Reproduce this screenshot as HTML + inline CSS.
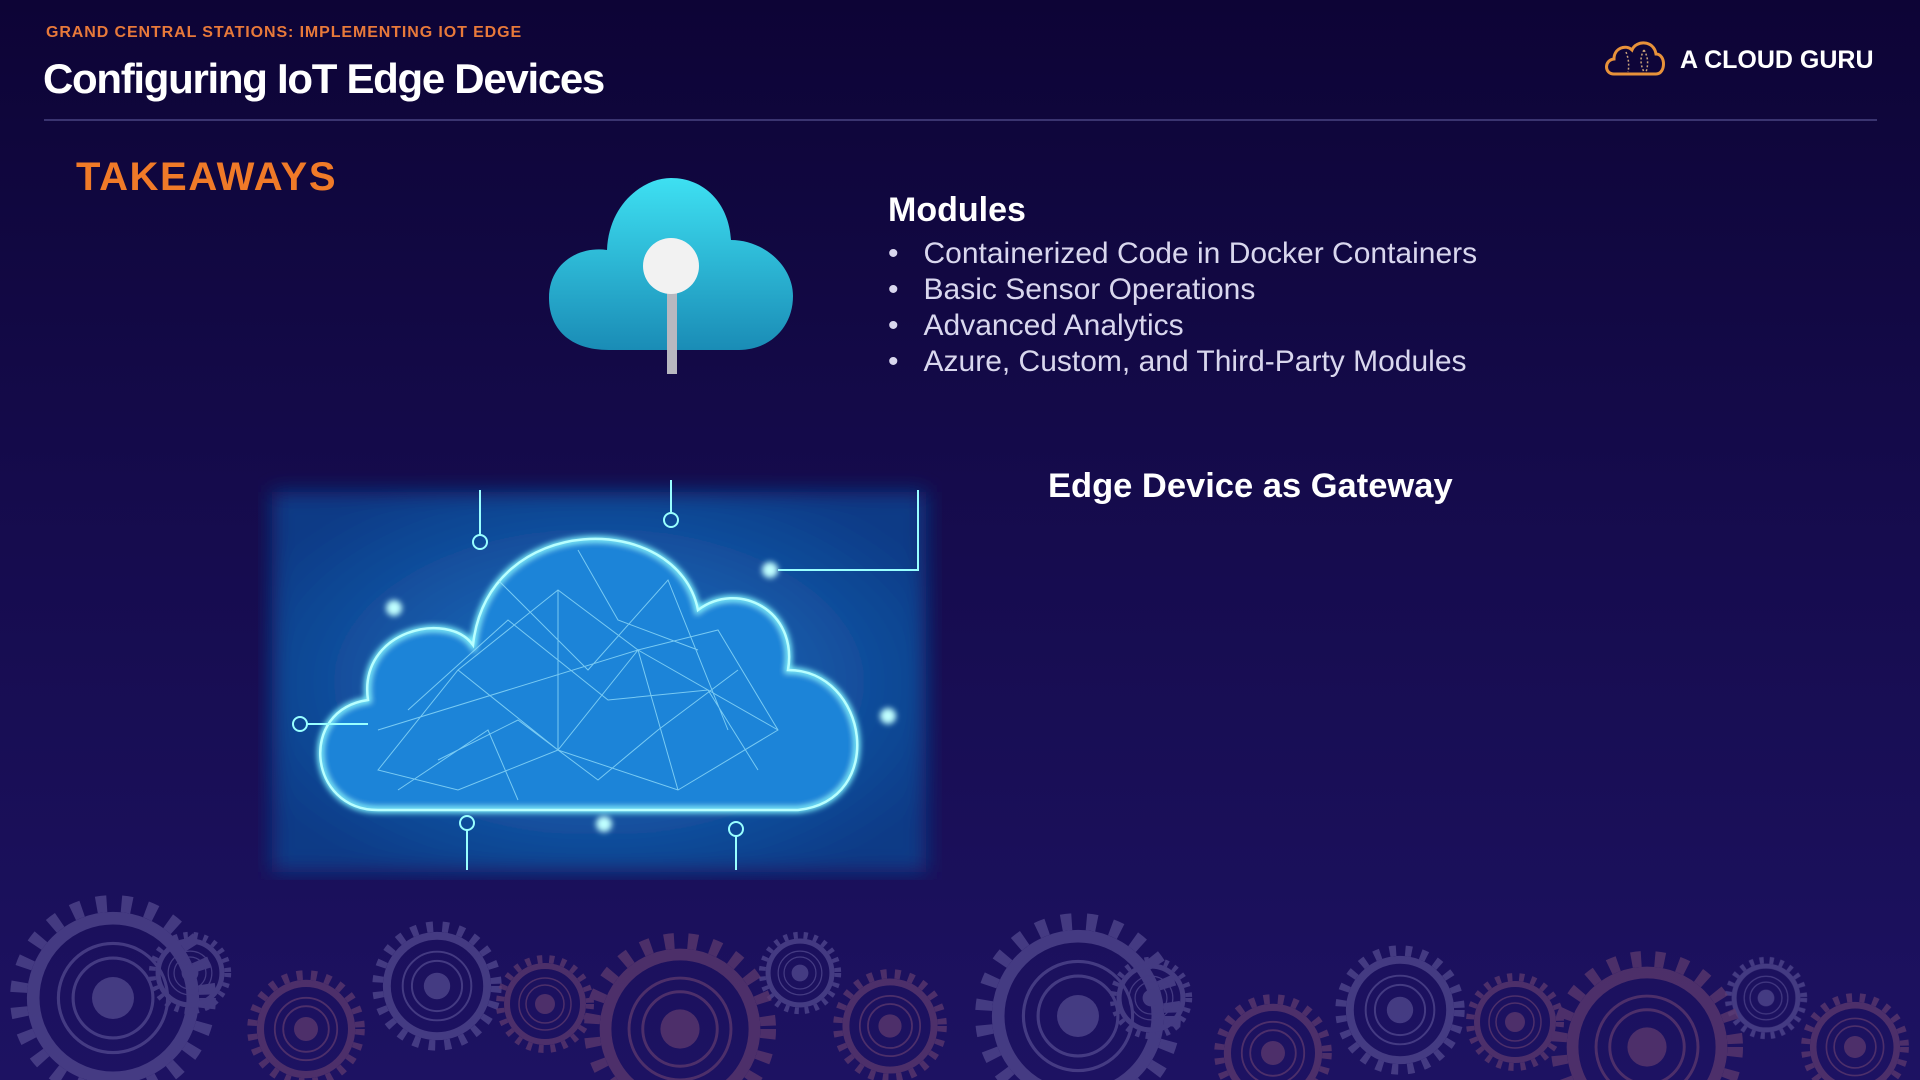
<!DOCTYPE html>
<html><head><meta charset="utf-8"><style>
html,body{margin:0;width:1920px;height:1080px;overflow:hidden}
body{background:linear-gradient(180deg,#0d0436 0%,#150b4c 45%,#1d1262 100%);font-family:"Liberation Sans",sans-serif;position:relative}
.a{position:absolute;white-space:nowrap}
</style></head><body>
<div class="a" style="left:46px;top:24px;font-size:16px;font-weight:bold;color:#e8793a;letter-spacing:0.9px">GRAND CENTRAL STATIONS: IMPLEMENTING IOT EDGE</div>
<div class="a" style="left:43px;top:55px;font-size:42px;font-weight:bold;color:#fff;letter-spacing:-1.3px">Configuring IoT Edge Devices</div>
<div class="a" style="left:44px;top:119px;width:1833px;height:2px;background:#3a3470"></div>
<svg class="a" style="left:1604px;top:38px" width="64" height="40" viewBox="0 0 64 40"><path d="M10 36 C0 36 0 22 10 21 C10 10 22 6 28 12 C32 2 50 2 52 16 C62 16 62 36 52 36 Z" fill="none" stroke="#e8923a" stroke-width="3"/><path d="M22 14 Q26 24 24 34 M40 12 Q34 22 40 34 M40 12 Q46 22 42 34" fill="none" stroke="#c9a27a" stroke-width="1.5" stroke-dasharray="2 2"/></svg>
<div class="a" style="left:1680px;top:46px;font-size:25px;font-weight:bold;color:#fff">A CLOUD GURU</div>
<div class="a" style="left:76px;top:155px;font-size:40px;font-weight:bold;color:#f07a28;letter-spacing:1.6px">TAKEAWAYS</div>
<svg class="a" style="left:549px;top:178px" width="244" height="200" viewBox="0 0 244 200"><defs><linearGradient id="cg" x1="0" y1="0" x2="0" y2="1"><stop offset="0" stop-color="#3ee0f2"/><stop offset="1" stop-color="#1a8cb6"/></linearGradient></defs><path d="M60 172 C20 172 0 150 0 120 C0 85 30 68 58 72 C60 25 95 0 122 0 C155 0 180 25 182 62 C215 62 244 88 244 118 C244 150 220 172 190 172 Z" fill="url(#cg)"/><rect x="118" y="92" width="10" height="104" fill="#b8b8c0"/><circle cx="122" cy="88" r="28" fill="#f2f2f2"/></svg>
<div class="a" style="left:888px;top:191px;font-size:34px;font-weight:bold;color:#fff">Modules</div>
<div class="a" style="left:888px;top:236px;font-size:30px;color:#d9d7ee;line-height:36px">
<div>•&nbsp;&nbsp;&nbsp;Containerized Code in Docker Containers</div>
<div>•&nbsp;&nbsp;&nbsp;Basic Sensor Operations</div>
<div>•&nbsp;&nbsp;&nbsp;Advanced Analytics</div>
<div>•&nbsp;&nbsp;&nbsp;Azure, Custom, and Third-Party Modules</div></div>
<div class="a" style="left:1048px;top:467px;font-size:34.5px;font-weight:bold;color:#fff">Edge Device as Gateway</div>
<svg class="a" style="left:258px;top:470px" width="684" height="410" viewBox="0 0 684 410"><defs><filter id="bl"><feGaussianBlur stdDeviation="10"/></filter><filter id="gl"><feGaussianBlur stdDeviation="3"/></filter><radialGradient id="bg" cx="0.5" cy="0.5" r="0.6"><stop offset="0" stop-color="#1f76c8"/><stop offset="1" stop-color="#0b3a86"/></radialGradient></defs>
<rect x="14" y="22" width="654" height="380" fill="url(#bg)" filter="url(#bl)"/>
<path d="M120 340 C50 340 40 240 110 230 C100 160 190 140 215 175 C230 40 420 40 440 140 C480 110 540 140 530 200 C610 200 630 330 540 340 Z" fill="#1e84d8" stroke="#7ff4ff" stroke-width="6" filter="url(#gl)"/>
<path d="M120 340 C50 340 40 240 110 230 C100 160 190 140 215 175 C230 40 420 40 440 140 C480 110 540 140 530 200 C610 200 630 330 540 340 Z" fill="none" stroke="#b8ffff" stroke-width="2.5"/>
<g stroke="#9fe8ff" stroke-width="1" opacity="0.7" fill="none"><path d="M120 300 L200 200 L300 120 L380 180 L460 160 L520 260 L420 320 L300 280 L200 320 Z M200 200 L300 280 L380 180 L420 320 M300 120 L300 280 M120 260 L380 180 L520 260 M150 240 L250 150 L350 230 L450 220 L500 300 M180 290 L260 250 L340 310 L400 260 L480 200 M240 110 L330 200 L410 110 L470 260 M140 320 L230 260 L260 330 M320 80 L360 150 L440 180"/></g>
<g fill="#c0ffff" filter="url(#gl)"><circle cx="136" cy="138" r="8"/><circle cx="512" cy="100" r="8"/><circle cx="630" cy="246" r="8"/><circle cx="346" cy="354" r="8"/></g>
<g stroke="#9ff" stroke-width="2" fill="none"><circle cx="222" cy="72" r="7"/><circle cx="413" cy="50" r="7"/><circle cx="42" cy="254" r="7"/><circle cx="209" cy="353" r="7"/><circle cx="478" cy="359" r="7"/><path d="M222 65 V20 M413 43 V10 M520 100 H660 V20 M49 254 H110 M209 360 V400 M478 366 V400"/></g></svg>
<svg class="a" style="left:0;top:870px" width="1920" height="210" viewBox="0 870 1920 210"><defs><g id="gear"><circle r="90" fill="none" stroke-width="16" stroke-dasharray="10 14"/><circle r="76" fill="none" stroke-width="12"/><circle r="52" fill="none" stroke-width="3"/><circle r="38" fill="none" stroke-width="3"/><circle r="20" stroke="none"/></g></defs>
<g stroke="#5c5296" fill="#5c5296" opacity="0.65">
<use href="#gear" transform="translate(113,998) scale(1.05)"/><use href="#gear" transform="translate(190,973) scale(0.42)"/><use href="#gear" transform="translate(437,986) scale(0.66)"/><use href="#gear" transform="translate(800,973) scale(0.42)"/><use href="#gear" transform="translate(1078,1016) scale(1.05)"/><use href="#gear" transform="translate(1151,998) scale(0.42)"/><use href="#gear" transform="translate(1400,1010) scale(0.66)"/><use href="#gear" transform="translate(1766,998) scale(0.42)"/></g>
<g stroke="#5e3a6e" fill="#5e3a6e" opacity="0.75">
<use href="#gear" transform="translate(306,1029) scale(0.6)"/><use href="#gear" transform="translate(545,1004) scale(0.5)"/><use href="#gear" transform="translate(680,1029) scale(0.98)"/><use href="#gear" transform="translate(890,1026) scale(0.58)"/><use href="#gear" transform="translate(1273,1053) scale(0.6)"/><use href="#gear" transform="translate(1515,1022) scale(0.5)"/><use href="#gear" transform="translate(1647,1047) scale(0.98)"/><use href="#gear" transform="translate(1855,1047) scale(0.55)"/></g></svg>
</body></html>
